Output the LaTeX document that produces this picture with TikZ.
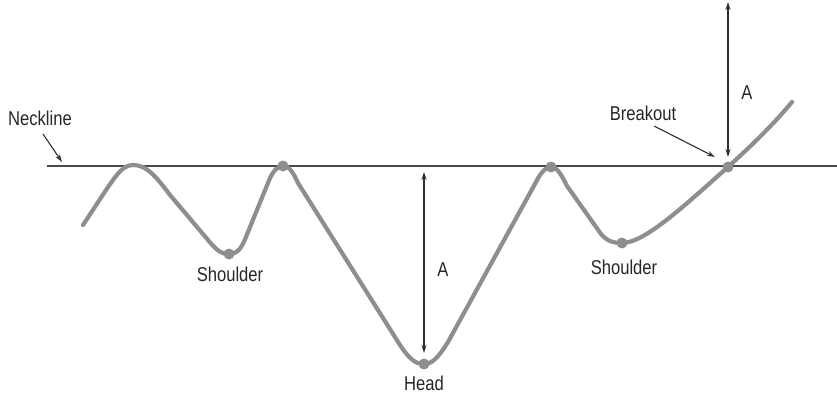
\documentclass[tikz,border=0pt]{standalone}
\usepackage{fontspec}
\setmainfont{Liberation Sans}[FakeStretch=0.83]
\usetikzlibrary{arrows.meta}
\definecolor{curvegray}{HTML}{8E8E8E}
\definecolor{linegray}{HTML}{4A4A4A}
\definecolor{arrowgray}{HTML}{2E2E2E}
\tikzset{
  lbl/.style={font=\fontsize{20}{23}\selectfont, text=black!85, inner sep=0pt},
  dot/.style={circle, fill=curvegray, inner sep=0pt, minimum size=11pt},
  priceline/.style={draw=curvegray, line width=4.2pt, line cap=round, line join=round},
  neck/.style={draw=linegray, line width=2pt},
  pointer/.style={draw=arrowgray, line width=1.1pt, -{Stealth[length=8pt,width=5pt]}},
  measure/.style={draw=arrowgray, line width=1.1pt, {Stealth[length=8pt,width=5pt]}-{Stealth[length=8pt,width=5pt]}}
}
\begin{document}
\begin{tikzpicture}[x=1pt,y=-1pt]
\useasboundingbox (0,0) rectangle (837,396);
% neckline
\coordinate (nl0) at (47,166);
\coordinate (nl1) at (837,166);
\draw[neck] (nl0) -- (nl1);
% price curve
\draw[priceline] (83,225) .. controls (113,180) and (120,165) .. (133,165)
  .. controls (146,165) and (155,175) .. (170,195)
  -- (208,240)
  .. controls (218,252) and (222,254) .. (229,254)
  .. controls (238,254) and (242,248) .. (248,232)
  -- (270,178)
  .. controls (274,170) and (278,166) .. (283,166)
  .. controls (289,166) and (293,172) .. (298,183)
  -- (400,345)
  .. controls (410,360) and (416,364) .. (424,364)
  .. controls (432,364) and (438,358) .. (448,342)
  -- (536,182)
  .. controls (541,172) and (546,167) .. (551,167)
  .. controls (557,167) and (561,174) .. (567,186)
  -- (601,234)
  .. controls (608,242) and (614,243) .. (622,243)
  .. controls (645,243) and (685,205) .. (728,167)
  .. controls (752,145) and (772,126) .. (792,102);
% dots
\node[dot] (ls) at (229,254) {};
\node[dot] (p2) at (283,166) {};
\node[dot] (hd) at (424,364) {};
\node[dot] (p3) at (551,167) {};
\node[dot] (rs) at (622,243) {};
\node[dot] (bo) at (728,167) {};
% labels
\node[lbl] (tneck) at (40,118) {Neckline};
\node[lbl] (tls) at (230,274) {Shoulder};
\node[lbl] (trs) at (624,267) {Shoulder};
\node[lbl] (thd) at (424,383) {Head};
\node[lbl] (tbo) at (643,113) {Breakout};
\node[lbl] (ta1) at (443,270) {A};
\node[lbl] (ta2) at (747,93) {A};
% arrows
\coordinate (nlpt) at (62,162);
\draw[pointer] (43,134) -- (nlpt);
\coordinate (bopt) at (715,157);
\draw[pointer] (654,126) -- (bopt);
\coordinate (ha) at (424,172);
\coordinate (hb) at (424,353);
\draw[measure] (ha) -- (hb);
\coordinate (ta) at (728,2);
\coordinate (tb) at (728,157);
\draw[measure] (ta) -- (tb);
\end{tikzpicture}
\end{document}
